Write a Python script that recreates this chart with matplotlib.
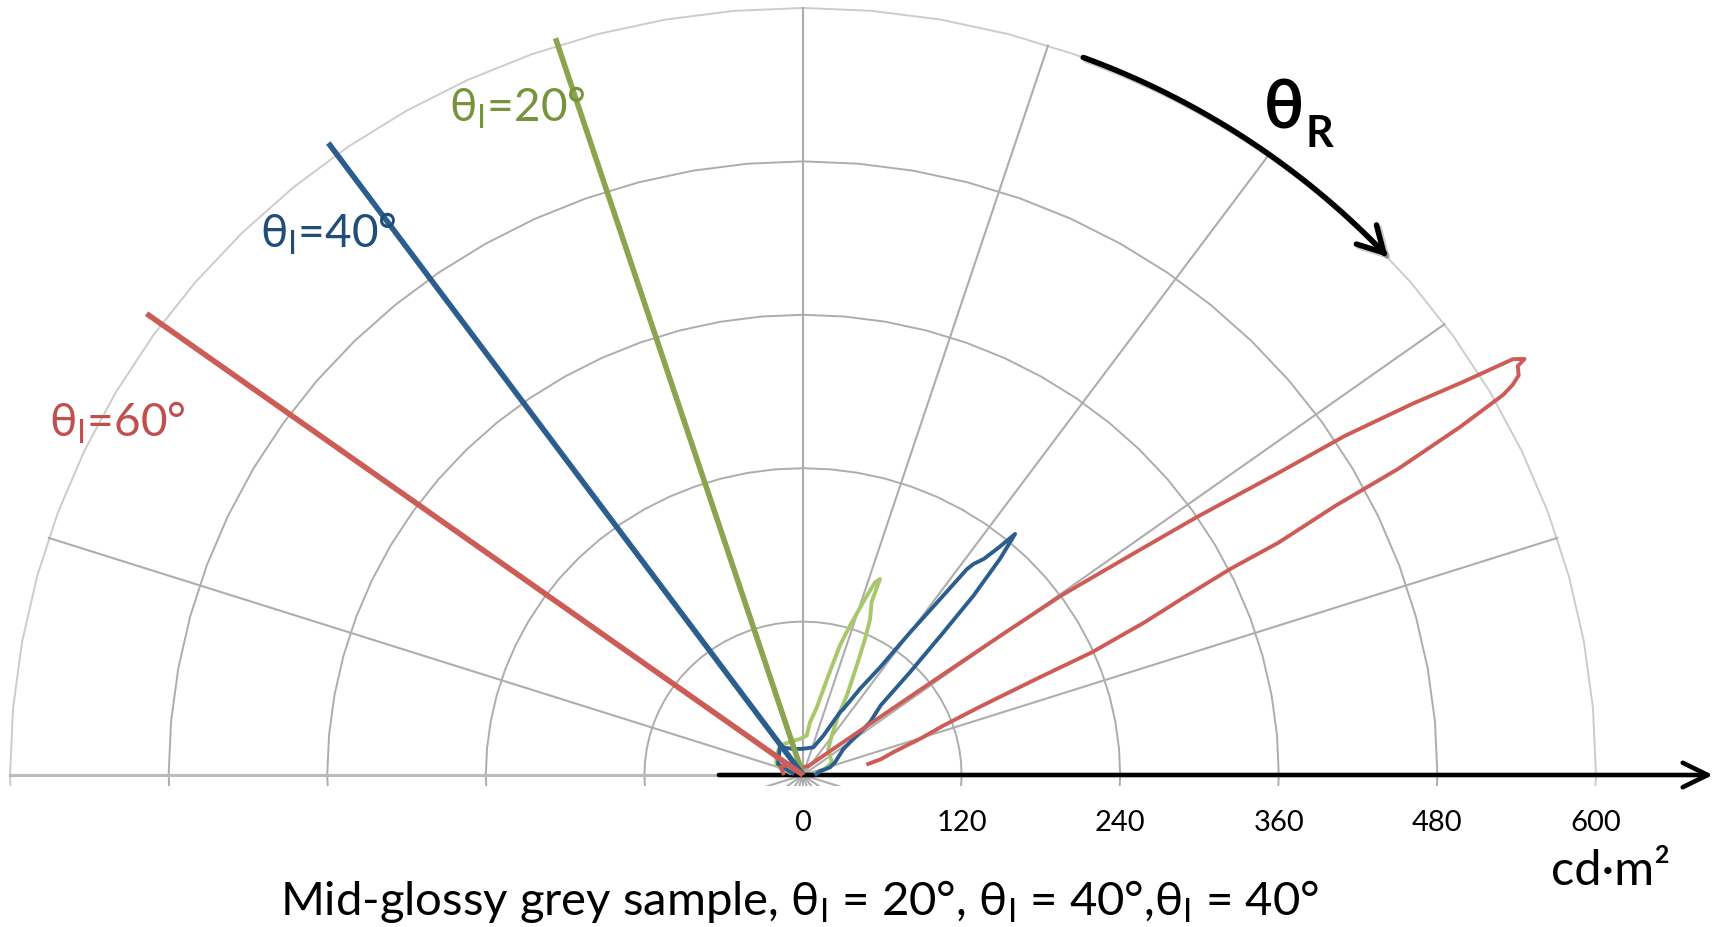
import numpy as np
import matplotlib
matplotlib.use("Agg")
import matplotlib.pyplot as plt
from matplotlib.patches import FancyArrowPatch, Rectangle
from matplotlib.path import Path
import matplotlib.patheffects as pe

plt.rcParams['font.family'] = ['Lato', 'DejaVu Sans']
plt.rcParams['mathtext.fontset'] = 'custom'
plt.rcParams['mathtext.rm'] = 'Lato'
plt.rcParams['mathtext.it'] = 'Lato:italic'
plt.rcParams['mathtext.bf'] = 'Lato:bold'

# radial grid (cd/m2) and labels
ring_values = [120, 240, 360, 480, 600]
tick_values = [0, 120, 240, 360, 480, 600]
tick_labels = ['0', '120', '240', '360', '480', '600']

# incident directions, degrees from the horizontal axis, and their drawn length
incident_angles = [108, 126, 144]
incident_lengths = [606, 611, 614]
incident_labels = ["θ$_\\mathrm{I}$=20°", "θ$_\\mathrm{I}$=40°", "θ$_\\mathrm{I}$=60°"]

# reflected luminance lobes, (angle deg, luminance) along the traced curve
green_ang = [8.0, 15.8, 24.5, 46.7, 54.7, 60.1, 61.9, 64.6, 66.2, 67.4, 69.0, 69.2, 70.1, 71.0,
             73.1, 74.6, 76.3, 78.8, 82.7, 84.8, 94.6, 105.3, 127.2, 145.0, 159.9, 170.0]
green_r = [10.0, 17.3, 23.9, 27.9, 37.6, 53.5, 70.3, 95.0, 116.3, 132.1, 144.8, 164.0, 160.3, 148.3,
           122.1, 105.0, 78.0, 54.0, 41.5, 30.9, 28.3, 27.8, 28.8, 25.0, 21.2, 10.0]

blue_ang = [4.0, 12.0, 16.4, 22.3, 33.6, 36.5, 39.1, 42.8, 44.8, 46.4, 47.4, 48.6, 49.6, 50.2,
            51.0, 52.0, 52.4, 52.9, 54.0, 55.3, 57.4, 59.4, 60.3, 63.4, 70.2, 90.0, 109.8, 128.5,
            155.5, 170.0]
blue_r = [10.0, 12.5, 21.3, 26.2, 36.6, 47.4, 65.3, 80.0, 114.0, 154.0, 190.5, 225.3, 247.6, 232.0,
          217.6, 209.4, 203.0, 176.0, 137.9, 102.5, 80.0, 60.0, 56.5, 34.4, 23.0, 20.5, 21.6, 28.0,
          20.8, 8.0]

red_ang = [9.9, 11.9, 14.6, 16.0, 17.7, 20.0, 21.8, 23.1, 23.7, 24.8, 25.8, 26.5, 26.8, 27.6,
           28.0, 28.7, 29.3, 29.6, 30.0, 30.6, 30.8, 31.2, 31.6, 32.2, 32.9, 33.3, 34.1, 34.7,
           35.7, 36.1, 36.6, 37.4, 39.7, 45.0, 60.0, 100.0, 130.0, 160.0, 175.0]
red_r = [50.1, 60.5, 70.6, 78.9, 92.9, 113.1, 145.7, 194.4, 238.7, 284.6, 322.9, 361.4, 403.0, 454.8,
         509.8, 566.7, 607.2, 617.3, 625.3, 628.3, 635.6, 627.9, 588.1, 544.7, 488.7, 430.5, 359.9, 305.3,
         240.2, 185.2, 132.4, 88.3, 44.1, 20.0, 8.0, 6.0, 12.0, 18.0, 15.0]

incident_colors = ['#8BA54F', '#2B5E8E', '#CD5C57']
lobe_colors = ['#A9C76B', '#2B5E8E', '#CD5C57']
label_colors = ['#77933C', '#1F4E79', '#C0504D']


def pol(ang, r):
    a = np.radians(np.asarray(ang, dtype=float))
    r = np.asarray(r, dtype=float)
    return r * np.cos(a), r * np.sin(a)


def main():
    fig = plt.figure(figsize=(17.21, 9.28), dpi=100)
    ax = fig.add_axes([0, 0, 1, 1])
    ax.set_xlim(-607.6, 694.6)
    ax.set_ylim(-118.9, 607.0)
    ax.axis('off')

    # grid rings (polygons) and spokes
    ring_ang = np.arange(0, 361, 5)
    for v in ring_values:
        x, y = pol(ring_ang, np.full(ring_ang.shape, v))
        col = '#CCCCCC' if v == ring_values[-1] else '#ADADAD'
        ax.plot(x, y, color=col, lw=1.4, zorder=1)
    for a in np.arange(0, 360, 18):
        x, y = pol([a, a], [0, ring_values[-1]])
        ax.plot(x, y, color='#ADADAD', lw=1.5, zorder=1)
    x, y = pol([180, 180], [0, ring_values[-1]])
    ax.plot(x, y, color='#BBBBBB', lw=2.2, zorder=1)

    # hide the lower half of the chart
    ax.add_patch(Rectangle((-700, -130), 1500, 121.4, facecolor='white', edgecolor='none', zorder=2))

    # horizontal axis arrow
    ax.annotate('', xy=(688.5, 0), xytext=(-63.6, 0),
                arrowprops=dict(arrowstyle='->,head_length=0.45,head_width=0.22', lw=3.3,
                                color='black', mutation_scale=40, shrinkA=0, shrinkB=0),
                zorder=3)

    # lobes
    for ang, r, c in zip([green_ang, blue_ang, red_ang], [green_r, blue_r, red_r], lobe_colors):
        x, y = pol(ang, r)
        ax.plot(x, y, color=c, lw=2.8, zorder=4, solid_joinstyle='round')

    # incident directions
    for a, L, c in zip(incident_angles, incident_lengths, incident_colors):
        x, y = pol([0, a], [0, L])
        ax.plot(x, y, color=c, lw=4.0, zorder=5, solid_capstyle='butt')

    # theta_R arrow along the outer ring
    arc_x, arc_y = pol(np.linspace(69.3, 42.5, 80), np.full(80, ring_values[-1]))
    arrow = FancyArrowPatch(path=Path(np.column_stack([arc_x, arc_y])),
                            arrowstyle='->,head_length=0.45,head_width=0.25',
                            mutation_scale=40, lw=4.0, color='black', zorder=6,
                            path_effects=[pe.SimpleLineShadow(offset=(2, -2), alpha=0.2),
                                          pe.Normal()])
    ax.add_patch(arrow)
    ax.text(349.0, 506.7, 'θ', fontsize=48, fontweight='bold', ha='left', va='baseline', zorder=7)
    ax.text(380.0, 492.3, 'R', fontsize=31, fontweight='bold', ha='left', va='baseline', zorder=7)

    # incident labels
    label_pos = [(-267.8, 511.8), (-410.8, 412.8), (-570.9, 265.4)]
    for (lx, ly), lab, c in zip(label_pos, incident_labels, label_colors):
        ax.text(lx, ly, lab, color=c, fontsize=33, ha='left', va='baseline', zorder=7)

    # tick labels and unit
    for v, lab in zip(tick_values, tick_labels):
        ax.text(v, -36.8, lab, fontsize=21, ha='center', va='center', zorder=7)
    ax.text(566, -85.3, 'cd·m²', fontsize=35, ha='left', va='baseline', zorder=7)

    ax.text(-2.3, -108.7,
            "Mid-glossy grey sample, θ$_\\mathrm{I}$ = 20°, θ$_\\mathrm{I}$ = 40°,θ$_\\mathrm{I}$ = 40°",
            fontsize=34, ha='center', va='baseline', zorder=7)

    fig.savefig('out.png', dpi=100, facecolor='white')
    plt.close(fig)


if __name__ == "__main__":
    main()
